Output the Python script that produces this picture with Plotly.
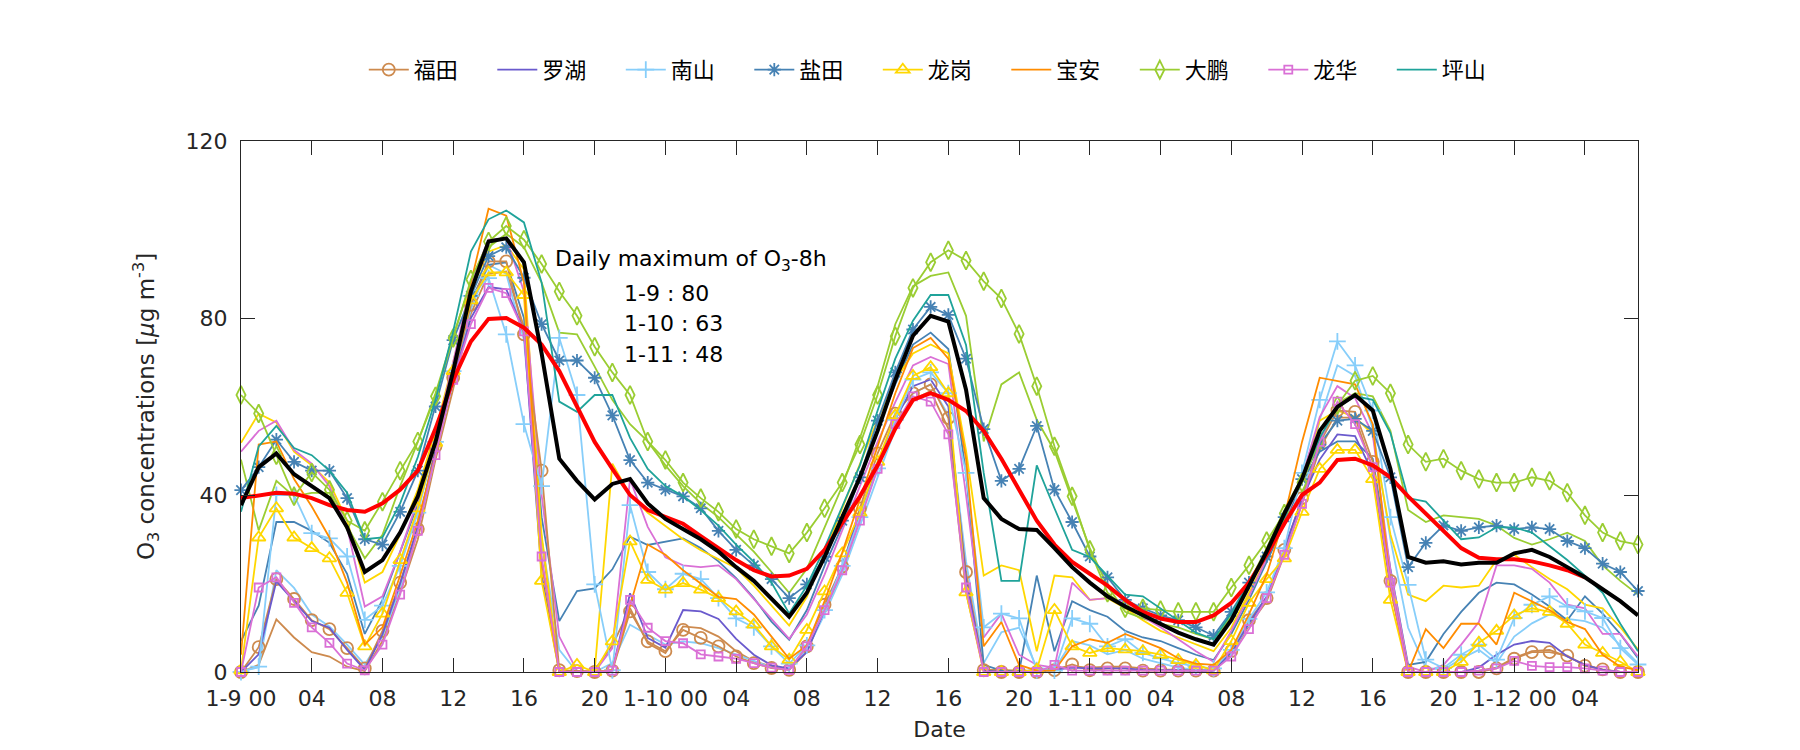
import plotly.graph_objects as go

# ---------------- data (hourly, 1-9 00:00 .. 1-12 07:00) ----------------
hours = list(range(80))
tick_hours = list(range(0, 80, 4))
tick_text = ["1-9 00", "04", "08", "12", "16", "20",
             "1-10 00", "04", "08", "12", "16", "20",
             "1-11 00", "04", "08", "12", "16", "20",
             "1-12 00", "04"]
y_ticks = [0, 40, 80, 120]

stations = ["福田", "罗湖", "南山", "盐田", "龙岗", "宝安", "大鹏", "龙华", "坪山"]

futian_m = [0, 5.6, 21, 16.5, 11.7, 9.7, 5.4, 0.8,
            9.3, 20.2, 32.3, 51, 66.5, 83, 92.8, 92.8,
            76.3, 45.5, 0.4, 0.2, 0, 0.3, 13.7, 6.9,
            4.7, 9.5, 7.7, 5.8, 3.5, 2, 0.9, 0.5,
            5.8, 15.2, 23.8, 37, 49.4, 58.4, 63, 65,
            57.4, 22.6, 0.4, 0, 0, 0, 0.4, 1.7,
            0.4, 0.8, 0.8, 0.3, 0.3, 0.3, 0.3, 0.3,
            4.7, 11.7, 16.7, 27.6, 39.3, 51.8, 59.1, 58.8,
            47.5, 20.6, 0, 0, 0, 0, 0, 0.8,
            3, 4.5, 4.5, 3.7, 1.4, 0.6, 0, 0]
futian_l = [0, 1.6, 11.9, 7.8, 4.5, 3.5, 1.2, 0.2,
            7, 18, 30, 48, 64, 81, 90, 90.5,
            78, 30, 0, 0, 0.5, 6, 14.4, 6.5,
            4.3, 10.3, 9.9, 8, 4.7, 2.4, 1.3, 0.5,
            4.5, 14, 22.5, 35, 47, 56, 61.5, 63.5,
            55, 18, 0.5, 0.5, 0.3, 0.3, 0.8, 1.2,
            1, 1.2, 1.2, 0.8, 0.6, 0.5, 0.4, 0.3,
            4, 10.5, 16, 26.5, 38, 50.5, 57.5, 57.5,
            46, 19, 0, 0, 0, 0, 0.3, 1,
            3.2, 4.7, 5, 3.5, 1.7, 0.5, 0, 0]
luohu = [0, 4, 20.5, 16, 11.5, 10, 5, 0.5,
         8.5, 20, 33, 50, 66, 80, 87, 86.5,
         77, 22, 0, 0, 0, 0.3, 17.8, 7.7,
         5.5, 14, 13.7, 12, 7.5, 3.9, 1.5, 0.8,
         4.5, 14, 24, 36, 47, 57, 64.6, 66.1,
         60, 21, 0.3, 0, 0, 0, 0.5, 1,
         0.8, 0.8, 0.8, 0.5, 0.5, 0.4, 0.3, 0.3,
         4.5, 11, 17, 28, 39, 48, 53.7, 53.3,
         45, 20, 0, 0, 0, 0, 1, 3.9,
         6.2, 7, 6.6, 3.5, 1.6, 0.5, 0, 0]
nanshan_m = [0, 1.2, 40, 40, 31.4, 30.2, 26.1, 11.8,
             15, 24, 36, 52, 68, 85, 89, 76.3,
             56, 42, 75.5, 62.6, 19.8, 0.4, 37.7, 22.6,
             18.7, 22.2, 21, 16.7, 12.1, 10.1, 5.8, 1.9,
             6, 14, 24, 35, 46, 57, 66.1, 67.7,
             63, 45, 10.1, 13.2, 12.1, 0.4, 0.3, 12.1,
             10.9, 5.8, 7.4, 4.3, 3.1, 2, 1.2, 0.8,
             5, 12, 18, 28, 45, 61.5, 74.7, 69.3,
             59.1, 35, 19.7, 2.8, 0.9, 3.9, 6.2, 2.8,
             12.2, 15.2, 17.1, 14.8, 13.7, 12.2, 5.4, 1.7]
nanshan_l = [0.3, 1, 23, 19, 13, 10.3, 6.2, 1.7,
             8, 19, 32, 49, 66, 82, 92, 90,
             75, 30, 5, 0, 0, 2, 10.7, 8.4,
             6.2, 6.9, 6.5, 5.4, 4, 2.5, 1, 0.5,
             5, 13, 22, 33, 44, 55, 63, 65,
             58, 25, 2, 9, 10, 1, 0.5, 7,
             6, 4, 5, 3, 2, 1, 0.5, 0.3,
             4, 11, 17, 27, 39, 57, 69.3, 66.9,
             55, 30, 10, 1, 0.5, 3, 5, 2,
             8, 11, 13, 12, 11.5, 10, 6, 2]
yantian_m = [41.1, 46.3, 52.5, 47.5, 45.5, 45.5, 39.3, 30,
             28.8, 36.2, 45.5, 60, 75, 85, 94, 96,
             89.1, 78.6, 70.4, 70.4, 66.5, 58, 47.9, 42.8,
             41.2, 39.7, 37, 31.9, 27.6, 24.1, 21, 16.7,
             19.8, 26, 34.2, 44, 56.8, 67.7, 77.4, 82.5,
             80.7, 70.8, 54.9, 43.2, 45.9, 55.6, 41.2, 33.9,
             26.1, 21.4, 16.3, 14.4, 12.8, 11.7, 10.1, 8.2,
             13.6, 20.2, 26.1, 35, 43.6, 51.4, 56.8, 57.2,
             54.5, 44, 23.7, 29.2, 33.1, 31.9, 32.7, 33.1,
             32.3, 32.7, 32.3, 29.6, 28, 24.5, 22.6, 18.3]
yantian_l = [7, 15, 33.9, 33.9, 31.9, 29.2, 22.2, 8.6,
             16.3, 27, 38, 53, 69, 84, 92, 92.6,
             80, 35, 11.5, 18.3, 18.9, 23.2, 30.6, 28.7,
             29.5, 30.2, 28, 25, 21.2, 16.7, 11.4, 7.3,
             14, 24, 33, 44, 55, 65, 74, 76.7,
             73, 45, 1.6, 0.3, 0, 21.8, 4.7, 16,
             14, 12.5, 9.3, 7.8, 7, 5.4, 3.9, 2.7,
             8.6, 16.3, 24.9, 33.5, 43, 49.8, 52.1, 52.1,
             48.2, 23.3, 1.6, 2.3, 8.6, 13.6, 17.9, 20.2,
             19.8, 17.5, 14.8, 11.7, 17.1, 13.2, 8.6, 3.1]
longgang_m = [0.4, 30.4, 37, 30.4, 28, 25.7, 17.9, 5.8,
              13.2, 25.3, 37, 51.8, 68, 84, 90.3, 90.3,
              85.2, 20.6, 0, 1.6, 0, 6.9, 29.5, 20.8,
              18.6, 20.1, 18.6, 16.7, 13.7, 10.7, 5.8, 2.8,
              9.5, 18.2, 26.8, 36, 47.5, 58, 66.9, 68.9,
              63, 18, 0, 0, 0, 0.5, 14, 5.8,
              4.3, 5.4, 5.1, 4.7, 3.9, 2.7, 1.6, 0.4,
              7, 15.6, 21, 25.7, 36.2, 45.9, 50.2, 50.2,
              43.6, 16.3, 0, 0, 0, 2.3, 6.6, 9.3,
              12.8, 14.4, 13.6, 10.9, 6.2, 4.3, 2.3, 0]
longgang_l = [51.8, 58.4, 56.4, 49.8, 46.7, 42.8, 34.2, 20.2,
              22.6, 31.1, 41.2, 54.5, 70, 86.4, 95, 96.5,
              91, 31, 0, 0.2, 0.2, 47.1, 40, 36,
              33, 30, 27.5, 25.5, 23.5, 19.5, 15, 10.5,
              17, 27, 37, 47, 57, 66, 72, 74,
              72, 50, 21.8, 24.1, 23, 4.7, 21.8, 21.4,
              16.3, 16.7, 14.4, 11.7, 9.3, 7.8, 6.2, 4.7,
              10, 18, 25.7, 34.2, 44, 56.8, 59.1, 57.6,
              53.7, 31.1, 17.5, 16, 19.5, 19.1, 19.5, 25.3,
              26.5, 23.7, 21, 18.7, 15.2, 14.4, 10.1, 5.1]
baoan = [3.9, 51.4, 52.1, 43.6, 37.4, 30.4, 20.2, 6.2,
         10.1, 21.8, 34.2, 49, 67, 88, 104.7, 103.1,
         88, 25, 0, 0, 0, 0.5, 15, 28.8,
         26.5, 23, 20, 17, 16.5, 13, 8, 3,
         6, 16, 27, 39, 51, 63, 73.2, 75.5,
         70.8, 48.2, 5.8, 11.3, 1.6, 0.3, 0.3, 5.8,
         7.4, 6.6, 8.6, 7, 5.4, 3.1, 1.9, 1.6,
         5, 13, 22, 35, 52, 66.5, 65.8, 65,
         56, 19.5, 0, 9.7, 5.4, 10.9, 10.9, 6.2,
         17.9, 16, 14, 11.3, 9.7, 3.9, 1.2, 0.4]
dapeng_m = [62.6, 58.4, 49, 39.7, 45.1, 41.2, 34.2, 31.9,
            38.5, 45.5, 52.1, 62.3, 75.5, 88.7, 97.3, 100.8,
            97.7, 92.2, 86, 80.5, 73.5, 67.7, 62.6, 52.1,
            47.9, 42.8, 39.3, 36.2, 32.3, 30, 28.4, 26.8,
            31.5, 37, 42.8, 51.4, 62.6, 75.9, 86.8, 92.6,
            95.3, 93, 88.3, 84.4, 76.4, 64.6, 51, 39.7,
            27.6, 17.9, 14.4, 14.4, 14, 13.6, 13.6, 13.6,
            19.1, 24.1, 29.6, 35.8, 42.8, 52.5, 60.3, 65.8,
            66.9, 63, 51.4, 47.5, 48.2, 45.5, 43.6, 42.8,
            42.8, 44, 43.2, 40.5, 35.4, 31.5, 29.6, 28.8]
dapeng_l = [48, 32, 43.2, 39.7, 40.5, 40.5, 33, 25.7,
            31, 42, 52, 63, 76, 88, 96, 99,
            96, 88, 76.7, 76.3, 69, 61.5, 56, 52.1,
            46.7, 42, 38.1, 35, 31.1, 27.2, 22.6, 17.9,
            23.3, 32.7, 42, 52.9, 64.6, 78.6, 87.2, 89.5,
            90.3, 80.5, 52.1, 65, 67.7, 57, 50, 38.9,
            28, 19.5, 13.6, 12.1, 10.9, 10.1, 8.6, 7.4,
            12.5, 20.2, 28, 36.6, 44, 52, 60.7, 63,
            62.3, 54.5, 36.6, 33.9, 35.4, 35, 34.6, 33.1,
            30.3, 28.8, 30, 31.5, 29.6, 24.1, 20.6, 17.5]
longhua_m = [0, 19.1, 21.4, 15.6, 10.1, 6.6, 1.9, 0.4,
             6.2, 17.5, 31.9, 49, 66, 78.6, 86.8, 85.6,
             77, 26.1, 0, 0, 0, 0.3, 16.3, 10,
             7, 6.5, 4, 3.5, 3, 2, 1, 0.5,
             5.8, 14, 23, 34.2, 45.9, 56, 62.3, 61.1,
             53.7, 19.1, 0, 0, 0, 0, 1.6, 0.3,
             0.3, 0.3, 0.3, 0.3, 0.3, 0.3, 0.3, 0.3,
             3.5, 9.7, 16.7, 26.5, 38, 52, 61.1, 56,
             46.3, 20.2, 0, 0, 0, 0, 0.3, 0.8,
             2.5, 1.4, 1.1, 1.1, 0.8, 0.3, 0, 0]
longhua_l = [49.8, 54.5, 56.8, 50.2, 47.1, 42, 32.7, 14.8,
             17.1, 27.2, 38.9, 52.9, 70, 88, 97.7, 98,
             86, 40, 8, 0.3, 0, 5.4, 43.6, 32.8,
             25.9, 24.1, 23.7, 24.1, 21, 16.5, 12, 7.5,
             13, 22, 32, 42, 52, 61, 69.3, 71.2,
             69.6, 40, 7.8, 13.2, 3.9, 1.6, 1, 20.2,
             16.3, 16.7, 15.6, 12.5, 10.1, 7.4, 4.7, 2.3,
             9.3, 17.1, 25.7, 34.2, 44, 57.6, 64.6, 61.9,
             53.7, 23, 1.2, 0, 1.6, 6.2, 11.3, 24.1,
             24.1, 23.3, 20.2, 15.2, 14.4, 8.6, 8.6, 3.5]
pingshan = [36.2, 51, 55.6, 50.6, 49, 45.5, 40.5, 30,
            30.4, 38.1, 48.6, 61.5, 77, 95, 102.3, 104.3,
            101.6, 88, 61.1, 58.8, 62.6, 62.6, 52.9, 45.9,
            42, 39.7, 36.6, 33.1, 28.8, 24.9, 20.2, 13.2,
            19.5, 28, 37.4, 46.7, 59.1, 70.8, 79.4, 85.2,
            85.2, 73.9, 45, 20.6, 20.6, 46.7, 37, 27.6,
            26, 21.8, 17.5, 17.1, 14.4, 11.7, 8.9, 7.4,
            13.2, 20.2, 27.2, 35, 43.6, 52.9, 59.9, 62.3,
            61.5, 54, 39.3, 38.5, 34.2, 30, 30.4, 32.7,
            32.7, 31.5, 28.4, 25.3, 21.8, 17.9, 10.9, 4.7]
city_mean = [37.7, 46.3, 49.4, 44.7, 42, 39.3, 32.7, 22.6,
             25.3, 31.5, 39.7, 52, 68, 86, 97.3, 98,
             92.6, 72, 48.2, 43.2, 39, 42.5, 43.6, 38.1,
             34.6, 32.3, 30, 27.2, 23.7, 20.6, 16.7, 12.5,
             17.9, 26, 35, 44, 54.5, 66, 76, 80.5,
             79.2, 63.8, 39.3, 34.6, 32.3, 32.1, 28, 23.7,
             20.2, 17.1, 14.8, 12.8, 10.9, 8.9, 7.4, 6.2,
             11.7, 19.5, 27.2, 35.8, 43.6, 54.5, 59.9, 62.6,
             59.1, 45.9, 26, 24.7, 25, 24.3, 24.7, 24.7,
             26.8, 27.6, 26, 23.7, 21.4, 18.7, 16, 12.8]
o3_8h = [39.3, 40, 40.5, 40.3, 39.3, 37.7, 36.6, 36.2,
         38.1, 41.2, 45.5, 55, 66, 74.7, 79.8, 80,
         77.8, 74, 68, 60, 52, 45.9, 40, 36.6,
         35, 33.5, 30.7, 28, 25.3, 23, 21.6, 21.8,
         23.3, 27.6, 33.5, 39.7, 46.7, 55, 61.5, 63,
         61.5, 59, 54.5, 48.2, 41.2, 34.2, 28.8, 24.9,
         22.2, 19.5, 16.3, 13.6, 12.1, 11.3, 11.3, 12.8,
         15.6, 20.2, 26.5, 33.5, 40, 42.8, 47.9, 48.2,
         46.7, 44, 39.7, 35.8, 31.9, 28, 25.8, 25.5,
         25.5, 25, 24.1, 23, 21.4]

ann_days = ["1-9", "1-10", "1-11"]
ann_max = [80, 63, 48]

# ---------------- styles ----------------
colors = ["#CD8A4E", "#6A5ACD", "#87CEFA", "#4682B4", "#FFD700",
          "#FF8C00", "#9ACD32", "#DA70D6", "#1FA39A"]
symbols = ["circle-open", None, "cross-thin-open", "asterisk-open",
           "triangle-up-open", None, "diamond-tall-open", "square-open", None]
msizes = [12, 0, 12, 11, 12, 0, 13, 8, 0]
main_series = [futian_m, luohu, nanshan_m, yantian_m, longgang_m,
               baoan, dapeng_m, longhua_m, pingshan]
plain_series = [(0, futian_l), (2, nanshan_l), (3, yantian_l),
                (4, longgang_l), (6, dapeng_l), (7, longhua_l)]

fig = go.Figure()

for idx, ser in plain_series:
    fig.add_trace(go.Scatter(x=hours, y=ser, mode="lines", showlegend=False,
                             line=dict(color=colors[idx], width=1.8),
                             hoverinfo="skip", cliponaxis=False))

for i, name in enumerate(stations):
    if symbols[i]:
        fig.add_trace(go.Scatter(
            x=hours, y=main_series[i], mode="lines+markers", name=name,
            line=dict(color=colors[i], width=1.8),
            marker=dict(symbol=symbols[i], size=msizes[i], color=colors[i],
                        line=dict(color=colors[i], width=1.8)),
            cliponaxis=False))
    else:
        fig.add_trace(go.Scatter(
            x=hours, y=main_series[i], mode="lines", name=name,
            line=dict(color=colors[i], width=1.8), cliponaxis=False))

fig.add_trace(go.Scatter(x=hours[:len(o3_8h)], y=o3_8h, mode="lines", showlegend=False,
                         line=dict(color="#FF0000", width=4)))
fig.add_trace(go.Scatter(x=hours, y=city_mean, mode="lines", showlegend=False,
                         line=dict(color="#000000", width=4)))

# annotation text block
fig.add_annotation(x=17.65, y=93.0, xref="x", yref="y", xanchor="left", yanchor="middle",
                   text="Daily maximum of O<sub>3</sub>-8h", showarrow=False,
                   font=dict(family="DejaVu Sans", size=22, color="#000000"))
for k, (d, v) in enumerate(zip(ann_days, ann_max)):
    fig.add_annotation(x=21.55, y=85.6 - 6.9 * k, xref="x", yref="y",
                       xanchor="left", yanchor="middle",
                       text=f"{d} : {v}", showarrow=False,
                       font=dict(family="DejaVu Sans", size=22, color="#000000"))

axis_color = "#262626"
fig.update_layout(
    width=1800, height=750,
    margin=dict(l=233, r=170, t=133, b=86),
    paper_bgcolor="white", plot_bgcolor="white",
    font=dict(family="DejaVu Sans", size=22, color=axis_color),
    legend=dict(orientation="h", x=0.502, xanchor="center", y=1.134, yanchor="middle",
                font=dict(family="Noto Sans CJK SC", size=22, color="#000000"),
                bgcolor="rgba(0,0,0,0)", entrywidth=73.5, entrywidthmode="pixels",
                itemwidth=40),
)
fig.update_xaxes(range=[0, 79], tickmode="array", tickvals=tick_hours, ticktext=tick_text,
                 ticks="inside", ticklen=14, tickwidth=1.2, tickcolor=axis_color,
                 showline=True, linecolor=axis_color, linewidth=1.2, mirror="ticks",
                 showgrid=False, zeroline=False, ticklabelstandoff=6,
                 tickfont=dict(family="DejaVu Sans", size=22, color=axis_color),
                 title=dict(text="Date", standoff=12,
                            font=dict(family="DejaVu Sans", size=22, color=axis_color)))
fig.update_yaxes(range=[0, 120], tickmode="array", tickvals=y_ticks,
                 ticks="inside", ticklen=14, tickwidth=1.2, tickcolor=axis_color,
                 showline=True, linecolor=axis_color, linewidth=1.2, mirror="ticks",
                 showgrid=False, zeroline=False, ticklabelstandoff=8,
                 tickfont=dict(family="DejaVu Sans", size=22, color=axis_color),
                 title=dict(text="O<sub>3</sub> concentrations [<i>μ</i>g m<sup>-3</sup>]",
                            standoff=24,
                            font=dict(family="DejaVu Sans", size=23, color=axis_color)))

fig.write_html("out.html")
